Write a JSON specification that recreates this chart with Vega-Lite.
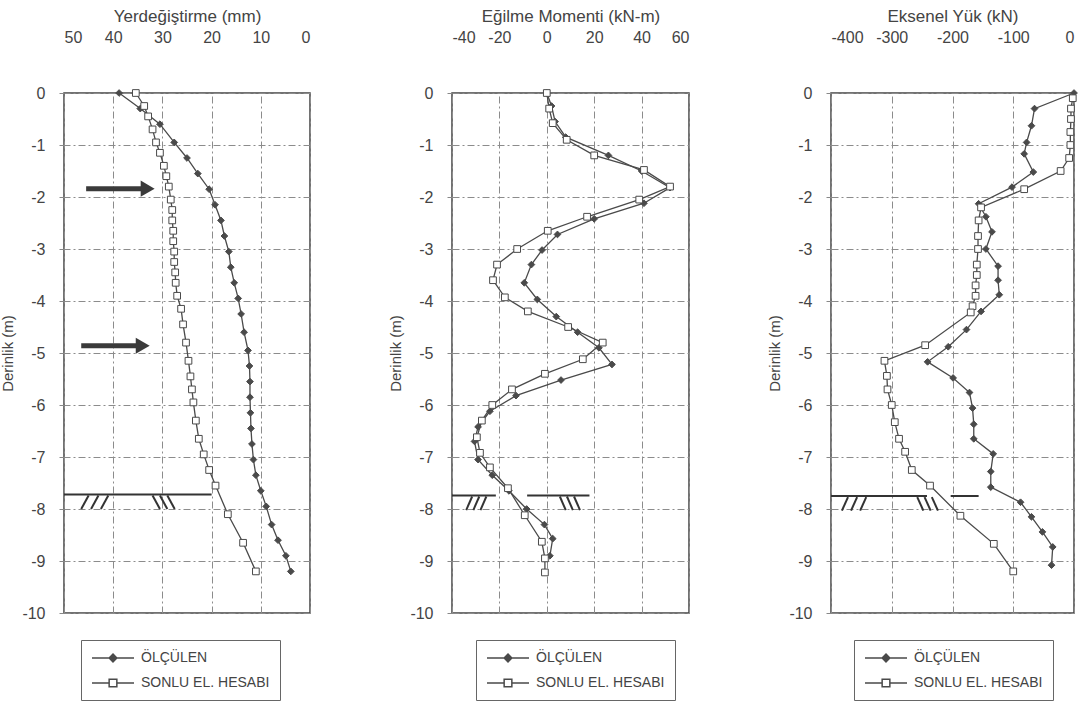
{
  "$schema": "https://vega.github.io/schema/vega-lite/v6.json",
  "padding": {"left": 0, "top": 6, "right": 4, "bottom": 0},
  "background": "white",
  "bounds": "flush",
  "spacing": 142,
  "datasets": {
    "obs": [
      {"p": "Y", "s": "ÖLÇÜLEN", "d": 0, "v": 38.8},
      {"p": "Y", "s": "ÖLÇÜLEN", "d": -0.3, "v": 34.5},
      {"p": "Y", "s": "ÖLÇÜLEN", "d": -0.6, "v": 30.5},
      {"p": "Y", "s": "ÖLÇÜLEN", "d": -0.95, "v": 27.6},
      {"p": "Y", "s": "ÖLÇÜLEN", "d": -1.25, "v": 25.0},
      {"p": "Y", "s": "ÖLÇÜLEN", "d": -1.55, "v": 22.8},
      {"p": "Y", "s": "ÖLÇÜLEN", "d": -1.85, "v": 20.5},
      {"p": "Y", "s": "ÖLÇÜLEN", "d": -2.15, "v": 19.3},
      {"p": "Y", "s": "ÖLÇÜLEN", "d": -2.45, "v": 18.1},
      {"p": "Y", "s": "ÖLÇÜLEN", "d": -2.75, "v": 17.4},
      {"p": "Y", "s": "ÖLÇÜLEN", "d": -3.05, "v": 16.5},
      {"p": "Y", "s": "ÖLÇÜLEN", "d": -3.35, "v": 16.1},
      {"p": "Y", "s": "ÖLÇÜLEN", "d": -3.65, "v": 15.4},
      {"p": "Y", "s": "ÖLÇÜLEN", "d": -3.95, "v": 14.6},
      {"p": "Y", "s": "ÖLÇÜLEN", "d": -4.25, "v": 14.0},
      {"p": "Y", "s": "ÖLÇÜLEN", "d": -4.6, "v": 13.4},
      {"p": "Y", "s": "ÖLÇÜLEN", "d": -4.95, "v": 12.6},
      {"p": "Y", "s": "ÖLÇÜLEN", "d": -5.25, "v": 12.3},
      {"p": "Y", "s": "ÖLÇÜLEN", "d": -5.55, "v": 12.2},
      {"p": "Y", "s": "ÖLÇÜLEN", "d": -5.85, "v": 12.2},
      {"p": "Y", "s": "ÖLÇÜLEN", "d": -6.15, "v": 12.1},
      {"p": "Y", "s": "ÖLÇÜLEN", "d": -6.45, "v": 12.0},
      {"p": "Y", "s": "ÖLÇÜLEN", "d": -6.75, "v": 11.8},
      {"p": "Y", "s": "ÖLÇÜLEN", "d": -7.05, "v": 11.5},
      {"p": "Y", "s": "ÖLÇÜLEN", "d": -7.35, "v": 11.0},
      {"p": "Y", "s": "ÖLÇÜLEN", "d": -7.65, "v": 10.0},
      {"p": "Y", "s": "ÖLÇÜLEN", "d": -7.95, "v": 8.9},
      {"p": "Y", "s": "ÖLÇÜLEN", "d": -8.3, "v": 7.8},
      {"p": "Y", "s": "ÖLÇÜLEN", "d": -8.6, "v": 6.5},
      {"p": "Y", "s": "ÖLÇÜLEN", "d": -8.9, "v": 4.9},
      {"p": "Y", "s": "ÖLÇÜLEN", "d": -9.2, "v": 3.9},
      {"p": "Y", "s": "SONLU EL. HESABI", "d": 0, "v": 35.4},
      {"p": "Y", "s": "SONLU EL. HESABI", "d": -0.25, "v": 33.7},
      {"p": "Y", "s": "SONLU EL. HESABI", "d": -0.45, "v": 32.9},
      {"p": "Y", "s": "SONLU EL. HESABI", "d": -0.7, "v": 32.0},
      {"p": "Y", "s": "SONLU EL. HESABI", "d": -0.95, "v": 31.3},
      {"p": "Y", "s": "SONLU EL. HESABI", "d": -1.15, "v": 30.5},
      {"p": "Y", "s": "SONLU EL. HESABI", "d": -1.4, "v": 29.7},
      {"p": "Y", "s": "SONLU EL. HESABI", "d": -1.6, "v": 29.2},
      {"p": "Y", "s": "SONLU EL. HESABI", "d": -1.8, "v": 28.7},
      {"p": "Y", "s": "SONLU EL. HESABI", "d": -2.05, "v": 28.3},
      {"p": "Y", "s": "SONLU EL. HESABI", "d": -2.25, "v": 28.0},
      {"p": "Y", "s": "SONLU EL. HESABI", "d": -2.45, "v": 28.0},
      {"p": "Y", "s": "SONLU EL. HESABI", "d": -2.65, "v": 27.8},
      {"p": "Y", "s": "SONLU EL. HESABI", "d": -2.85, "v": 27.8},
      {"p": "Y", "s": "SONLU EL. HESABI", "d": -3.05, "v": 27.6},
      {"p": "Y", "s": "SONLU EL. HESABI", "d": -3.25, "v": 27.6},
      {"p": "Y", "s": "SONLU EL. HESABI", "d": -3.45, "v": 27.4},
      {"p": "Y", "s": "SONLU EL. HESABI", "d": -3.65, "v": 27.3},
      {"p": "Y", "s": "SONLU EL. HESABI", "d": -3.9, "v": 27.0},
      {"p": "Y", "s": "SONLU EL. HESABI", "d": -4.15, "v": 26.2},
      {"p": "Y", "s": "SONLU EL. HESABI", "d": -4.45, "v": 25.8},
      {"p": "Y", "s": "SONLU EL. HESABI", "d": -4.8, "v": 25.2},
      {"p": "Y", "s": "SONLU EL. HESABI", "d": -5.15, "v": 24.7},
      {"p": "Y", "s": "SONLU EL. HESABI", "d": -5.45, "v": 24.3},
      {"p": "Y", "s": "SONLU EL. HESABI", "d": -5.7, "v": 24.0},
      {"p": "Y", "s": "SONLU EL. HESABI", "d": -5.95, "v": 23.7},
      {"p": "Y", "s": "SONLU EL. HESABI", "d": -6.3, "v": 23.2},
      {"p": "Y", "s": "SONLU EL. HESABI", "d": -6.65, "v": 22.6},
      {"p": "Y", "s": "SONLU EL. HESABI", "d": -6.95, "v": 21.6},
      {"p": "Y", "s": "SONLU EL. HESABI", "d": -7.25, "v": 20.5},
      {"p": "Y", "s": "SONLU EL. HESABI", "d": -7.55, "v": 19.2},
      {"p": "Y", "s": "SONLU EL. HESABI", "d": -8.1, "v": 16.7},
      {"p": "Y", "s": "SONLU EL. HESABI", "d": -8.65, "v": 13.6},
      {"p": "Y", "s": "SONLU EL. HESABI", "d": -9.2, "v": 11.0},

      {"p": "M", "s": "ÖLÇÜLEN", "d": 0, "v": 0},
      {"p": "M", "s": "ÖLÇÜLEN", "d": -0.25, "v": 2},
      {"p": "M", "s": "ÖLÇÜLEN", "d": -0.55, "v": 3.5},
      {"p": "M", "s": "ÖLÇÜLEN", "d": -0.85, "v": 8},
      {"p": "M", "s": "ÖLÇÜLEN", "d": -1.2, "v": 26},
      {"p": "M", "s": "ÖLÇÜLEN", "d": -1.5, "v": 40},
      {"p": "M", "s": "ÖLÇÜLEN", "d": -1.82, "v": 52},
      {"p": "M", "s": "ÖLÇÜLEN", "d": -2.12, "v": 41},
      {"p": "M", "s": "ÖLÇÜLEN", "d": -2.42, "v": 20},
      {"p": "M", "s": "ÖLÇÜLEN", "d": -2.72, "v": 4.5},
      {"p": "M", "s": "ÖLÇÜLEN", "d": -3.02, "v": -2},
      {"p": "M", "s": "ÖLÇÜLEN", "d": -3.3, "v": -6.5},
      {"p": "M", "s": "ÖLÇÜLEN", "d": -3.65, "v": -9.5},
      {"p": "M", "s": "ÖLÇÜLEN", "d": -3.97, "v": -4},
      {"p": "M", "s": "ÖLÇÜLEN", "d": -4.3, "v": 4},
      {"p": "M", "s": "ÖLÇÜLEN", "d": -4.6, "v": 13},
      {"p": "M", "s": "ÖLÇÜLEN", "d": -4.9, "v": 22},
      {"p": "M", "s": "ÖLÇÜLEN", "d": -5.22, "v": 27.5},
      {"p": "M", "s": "ÖLÇÜLEN", "d": -5.52, "v": 6},
      {"p": "M", "s": "ÖLÇÜLEN", "d": -5.82, "v": -13},
      {"p": "M", "s": "ÖLÇÜLEN", "d": -6.12, "v": -24},
      {"p": "M", "s": "ÖLÇÜLEN", "d": -6.42, "v": -29},
      {"p": "M", "s": "ÖLÇÜLEN", "d": -6.7, "v": -30.5},
      {"p": "M", "s": "ÖLÇÜLEN", "d": -7.05, "v": -29},
      {"p": "M", "s": "ÖLÇÜLEN", "d": -7.35, "v": -23},
      {"p": "M", "s": "ÖLÇÜLEN", "d": -7.65, "v": -16},
      {"p": "M", "s": "ÖLÇÜLEN", "d": -8.0, "v": -8.5},
      {"p": "M", "s": "ÖLÇÜLEN", "d": -8.3, "v": -1},
      {"p": "M", "s": "ÖLÇÜLEN", "d": -8.57, "v": 2.5},
      {"p": "M", "s": "ÖLÇÜLEN", "d": -8.9, "v": 1.3},
      {"p": "M", "s": "SONLU EL. HESABI", "d": 0, "v": 0},
      {"p": "M", "s": "SONLU EL. HESABI", "d": -0.3, "v": 1},
      {"p": "M", "s": "SONLU EL. HESABI", "d": -0.58, "v": 2.5},
      {"p": "M", "s": "SONLU EL. HESABI", "d": -0.9, "v": 8.4},
      {"p": "M", "s": "SONLU EL. HESABI", "d": -1.2, "v": 20},
      {"p": "M", "s": "SONLU EL. HESABI", "d": -1.48, "v": 41},
      {"p": "M", "s": "SONLU EL. HESABI", "d": -1.8, "v": 52},
      {"p": "M", "s": "SONLU EL. HESABI", "d": -2.05, "v": 39},
      {"p": "M", "s": "SONLU EL. HESABI", "d": -2.38, "v": 17},
      {"p": "M", "s": "SONLU EL. HESABI", "d": -2.65, "v": 0.4},
      {"p": "M", "s": "SONLU EL. HESABI", "d": -3.0, "v": -12.5},
      {"p": "M", "s": "SONLU EL. HESABI", "d": -3.3, "v": -21},
      {"p": "M", "s": "SONLU EL. HESABI", "d": -3.6, "v": -22.7},
      {"p": "M", "s": "SONLU EL. HESABI", "d": -3.93, "v": -17.7},
      {"p": "M", "s": "SONLU EL. HESABI", "d": -4.2, "v": -8},
      {"p": "M", "s": "SONLU EL. HESABI", "d": -4.5, "v": 9},
      {"p": "M", "s": "SONLU EL. HESABI", "d": -4.8, "v": 23.6},
      {"p": "M", "s": "SONLU EL. HESABI", "d": -5.12, "v": 15.2},
      {"p": "M", "s": "SONLU EL. HESABI", "d": -5.4, "v": -0.8},
      {"p": "M", "s": "SONLU EL. HESABI", "d": -5.7, "v": -14.7},
      {"p": "M", "s": "SONLU EL. HESABI", "d": -6.0, "v": -23},
      {"p": "M", "s": "SONLU EL. HESABI", "d": -6.3, "v": -27.4},
      {"p": "M", "s": "SONLU EL. HESABI", "d": -6.62, "v": -29.5},
      {"p": "M", "s": "SONLU EL. HESABI", "d": -6.92, "v": -28.2},
      {"p": "M", "s": "SONLU EL. HESABI", "d": -7.2, "v": -24},
      {"p": "M", "s": "SONLU EL. HESABI", "d": -7.6, "v": -16.4},
      {"p": "M", "s": "SONLU EL. HESABI", "d": -8.12, "v": -9.3},
      {"p": "M", "s": "SONLU EL. HESABI", "d": -8.63, "v": -2.1},
      {"p": "M", "s": "SONLU EL. HESABI", "d": -8.95, "v": -0.8},
      {"p": "M", "s": "SONLU EL. HESABI", "d": -9.22, "v": -0.8},

      {"p": "A", "s": "ÖLÇÜLEN", "d": 0, "v": 0},
      {"p": "A", "s": "ÖLÇÜLEN", "d": -0.3, "v": -65},
      {"p": "A", "s": "ÖLÇÜLEN", "d": -0.63, "v": -70},
      {"p": "A", "s": "ÖLÇÜLEN", "d": -0.95, "v": -78},
      {"p": "A", "s": "ÖLÇÜLEN", "d": -1.17, "v": -82},
      {"p": "A", "s": "ÖLÇÜLEN", "d": -1.52, "v": -67},
      {"p": "A", "s": "ÖLÇÜLEN", "d": -1.81, "v": -102},
      {"p": "A", "s": "ÖLÇÜLEN", "d": -2.13, "v": -157},
      {"p": "A", "s": "ÖLÇÜLEN", "d": -2.38, "v": -145},
      {"p": "A", "s": "ÖLÇÜLEN", "d": -2.67, "v": -135},
      {"p": "A", "s": "ÖLÇÜLEN", "d": -3.0, "v": -145},
      {"p": "A", "s": "ÖLÇÜLEN", "d": -3.33, "v": -125},
      {"p": "A", "s": "ÖLÇÜLEN", "d": -3.6, "v": -125},
      {"p": "A", "s": "ÖLÇÜLEN", "d": -3.88, "v": -123},
      {"p": "A", "s": "ÖLÇÜLEN", "d": -4.2, "v": -153},
      {"p": "A", "s": "ÖLÇÜLEN", "d": -4.55, "v": -177},
      {"p": "A", "s": "ÖLÇÜLEN", "d": -4.88, "v": -207},
      {"p": "A", "s": "ÖLÇÜLEN", "d": -5.17, "v": -241},
      {"p": "A", "s": "ÖLÇÜLEN", "d": -5.48, "v": -199},
      {"p": "A", "s": "ÖLÇÜLEN", "d": -5.76, "v": -172},
      {"p": "A", "s": "ÖLÇÜLEN", "d": -6.06, "v": -167},
      {"p": "A", "s": "ÖLÇÜLEN", "d": -6.37, "v": -165},
      {"p": "A", "s": "ÖLÇÜLEN", "d": -6.65, "v": -165},
      {"p": "A", "s": "ÖLÇÜLEN", "d": -6.94, "v": -133},
      {"p": "A", "s": "ÖLÇÜLEN", "d": -7.28, "v": -137},
      {"p": "A", "s": "ÖLÇÜLEN", "d": -7.58, "v": -137},
      {"p": "A", "s": "ÖLÇÜLEN", "d": -7.87, "v": -88},
      {"p": "A", "s": "ÖLÇÜLEN", "d": -8.15, "v": -70},
      {"p": "A", "s": "ÖLÇÜLEN", "d": -8.44, "v": -52},
      {"p": "A", "s": "ÖLÇÜLEN", "d": -8.73, "v": -35},
      {"p": "A", "s": "ÖLÇÜLEN", "d": -9.08, "v": -37},
      {"p": "A", "s": "SONLU EL. HESABI", "d": -0.1, "v": -2},
      {"p": "A", "s": "SONLU EL. HESABI", "d": -0.3, "v": -5},
      {"p": "A", "s": "SONLU EL. HESABI", "d": -0.5, "v": -5},
      {"p": "A", "s": "SONLU EL. HESABI", "d": -0.75, "v": -6},
      {"p": "A", "s": "SONLU EL. HESABI", "d": -1.0, "v": -6},
      {"p": "A", "s": "SONLU EL. HESABI", "d": -1.25, "v": -8},
      {"p": "A", "s": "SONLU EL. HESABI", "d": -1.5, "v": -22},
      {"p": "A", "s": "SONLU EL. HESABI", "d": -1.85, "v": -82},
      {"p": "A", "s": "SONLU EL. HESABI", "d": -2.2, "v": -153},
      {"p": "A", "s": "SONLU EL. HESABI", "d": -2.45, "v": -157},
      {"p": "A", "s": "SONLU EL. HESABI", "d": -2.75, "v": -158},
      {"p": "A", "s": "SONLU EL. HESABI", "d": -3.0, "v": -158},
      {"p": "A", "s": "SONLU EL. HESABI", "d": -3.3, "v": -160},
      {"p": "A", "s": "SONLU EL. HESABI", "d": -3.5, "v": -160},
      {"p": "A", "s": "SONLU EL. HESABI", "d": -3.7, "v": -162},
      {"p": "A", "s": "SONLU EL. HESABI", "d": -3.9, "v": -162},
      {"p": "A", "s": "SONLU EL. HESABI", "d": -4.1, "v": -167},
      {"p": "A", "s": "SONLU EL. HESABI", "d": -4.22, "v": -170},
      {"p": "A", "s": "SONLU EL. HESABI", "d": -4.85, "v": -245},
      {"p": "A", "s": "SONLU EL. HESABI", "d": -5.15, "v": -312},
      {"p": "A", "s": "SONLU EL. HESABI", "d": -5.44, "v": -308},
      {"p": "A", "s": "SONLU EL. HESABI", "d": -5.7, "v": -307},
      {"p": "A", "s": "SONLU EL. HESABI", "d": -6.0, "v": -300},
      {"p": "A", "s": "SONLU EL. HESABI", "d": -6.33, "v": -295},
      {"p": "A", "s": "SONLU EL. HESABI", "d": -6.65, "v": -288},
      {"p": "A", "s": "SONLU EL. HESABI", "d": -6.9, "v": -278},
      {"p": "A", "s": "SONLU EL. HESABI", "d": -7.25, "v": -267},
      {"p": "A", "s": "SONLU EL. HESABI", "d": -7.55, "v": -237},
      {"p": "A", "s": "SONLU EL. HESABI", "d": -8.13, "v": -187},
      {"p": "A", "s": "SONLU EL. HESABI", "d": -8.67, "v": -132},
      {"p": "A", "s": "SONLU EL. HESABI", "d": -9.2, "v": -100}
    ],
    "ann": [
      {"p": "Y", "k": "ground", "v": 50, "v2": 20, "d": -7.72, "d2": -7.72},
      {"p": "Y", "k": "hatch", "v": 45, "v2": 46.5, "d": -7.74, "d2": -8.0},
      {"p": "Y", "k": "hatch", "v": 43, "v2": 44.5, "d": -7.74, "d2": -8.0},
      {"p": "Y", "k": "hatch", "v": 41, "v2": 42.5, "d": -7.74, "d2": -8.0},
      {"p": "Y", "k": "hatch", "v": 32, "v2": 30.5, "d": -7.74, "d2": -8.0},
      {"p": "Y", "k": "hatch", "v": 30.5, "v2": 29, "d": -7.74, "d2": -8.0},
      {"p": "Y", "k": "hatch", "v": 29, "v2": 27.5, "d": -7.74, "d2": -8.0},
      {"p": "Y", "k": "arrow", "v": 45.5, "v2": 34, "d": -1.84, "d2": -1.84},
      {"p": "Y", "k": "arrow", "v": 46.5, "v2": 35, "d": -4.86, "d2": -4.86},
      {"p": "Y", "k": "head", "v": 33, "d": -1.84},
      {"p": "Y", "k": "head", "v": 34, "d": -4.86},
      {"p": "M", "k": "ground", "v": -40, "v2": -21.5, "d": -7.74, "d2": -7.74},
      {"p": "M", "k": "ground", "v": -8.3, "v2": 18, "d": -7.74, "d2": -7.74},
      {"p": "M", "k": "hatch", "v": -31.5, "v2": -34, "d": -7.76, "d2": -8.02},
      {"p": "M", "k": "hatch", "v": -28.5, "v2": -31, "d": -7.76, "d2": -8.02},
      {"p": "M", "k": "hatch", "v": -25.5, "v2": -28, "d": -7.76, "d2": -8.02},
      {"p": "M", "k": "hatch", "v": 5.5, "v2": 8, "d": -7.76, "d2": -8.02},
      {"p": "M", "k": "hatch", "v": 8.5, "v2": 11, "d": -7.76, "d2": -8.02},
      {"p": "M", "k": "hatch", "v": 11.5, "v2": 14, "d": -7.76, "d2": -8.02},
      {"p": "A", "k": "ground", "v": -400, "v2": -242, "d": -7.75, "d2": -7.75},
      {"p": "A", "k": "ground", "v": -203, "v2": -157, "d": -7.75, "d2": -7.75},
      {"p": "A", "k": "hatch", "v": -372, "v2": -382, "d": -7.77, "d2": -8.03},
      {"p": "A", "k": "hatch", "v": -357, "v2": -367, "d": -7.77, "d2": -8.03},
      {"p": "A", "k": "hatch", "v": -342, "v2": -352, "d": -7.77, "d2": -8.03},
      {"p": "A", "k": "hatch", "v": -258, "v2": -248, "d": -7.77, "d2": -8.03},
      {"p": "A", "k": "hatch", "v": -246, "v2": -236, "d": -7.77, "d2": -8.03},
      {"p": "A", "k": "hatch", "v": -234, "v2": -224, "d": -7.77, "d2": -8.03}
    ]
  },
  "hconcat": [
    {
      "width": 246,
      "height": 520,
      "layer": [
        {
          "data": {"name": "ann"},
          "transform": [{"filter": "datum.p == 'Y' && (datum.k == 'ground' || datum.k == 'hatch')"}],
          "mark": {"type": "rule", "stroke": "#333", "strokeWidth": 2},
          "encoding": {
            "x": {"field": "v", "type": "quantitative", "scale": {"domain": [0, 50], "reverse": true, "nice": false}, "axis": {"orient": "top", "title": "Yerdeğiştirme (mm)", "values": [50, 40, 30, 20, 10, 0]}},
            "x2": {"field": "v2"},
            "y": {"field": "d", "type": "quantitative", "scale": {"domain": [-10, 0], "nice": false}, "axis": {"title": "Derinlik (m)", "values": [0, -1, -2, -3, -4, -5, -6, -7, -8, -9, -10], "labelExpr": "'' + datum.value"}},
            "y2": {"field": "d2"}
          }
        },
        {
          "data": {"name": "ann"},
          "transform": [{"filter": "datum.p == 'Y' && datum.k == 'arrow'"}],
          "mark": {"type": "rule", "stroke": "#3a3a3a", "strokeWidth": 5},
          "encoding": {
            "x": {"field": "v", "type": "quantitative"},
            "x2": {"field": "v2"},
            "y": {"field": "d", "type": "quantitative"},
            "y2": {"field": "d2"}
          }
        },
        {
          "data": {"name": "ann"},
          "transform": [{"filter": "datum.p == 'Y' && datum.k == 'head'"}],
          "mark": {"type": "point", "shape": "triangle-right", "filled": true, "fill": "#3a3a3a", "opacity": 1, "size": 260},
          "encoding": {
            "x": {"field": "v", "type": "quantitative"},
            "y": {"field": "d", "type": "quantitative"}
          }
        },
        {
          "data": {"name": "obs"},
          "transform": [{"filter": "datum.p == 'Y'"}],
          "mark": {"type": "line", "stroke": "#4a4a4a", "strokeWidth": 1.3},
          "encoding": {
            "x": {"field": "v", "type": "quantitative"},
            "y": {"field": "d", "type": "quantitative"},
            "detail": {"field": "s"},
            "order": {"field": "d", "sort": "descending"}
          }
        },
        {
          "data": {"name": "obs"},
          "transform": [{"filter": "datum.p == 'Y' && datum.s == 'ÖLÇÜLEN'"}],
          "mark": {"type": "point", "shape": "diamond", "filled": true, "fill": "#4a4a4a", "stroke": "#4a4a4a", "strokeWidth": 1, "opacity": 1, "size": 45},
          "encoding": {
            "x": {"field": "v", "type": "quantitative"},
            "y": {"field": "d", "type": "quantitative"}
          }
        },
        {
          "data": {"name": "obs"},
          "transform": [{"filter": "datum.p == 'Y' && datum.s != 'ÖLÇÜLEN'"}],
          "mark": {"type": "point", "shape": "square", "filled": true, "fill": "#ffffff", "stroke": "#4a4a4a", "strokeWidth": 1, "opacity": 1, "size": 45},
          "encoding": {
            "x": {"field": "v", "type": "quantitative"},
            "y": {"field": "d", "type": "quantitative"}
          }
        },
        {
          "data": {"name": "obs"},
          "transform": [{"filter": "datum.p == 'none'"}],
          "mark": {"type": "point", "filled": true, "stroke": "#4a4a4a", "strokeWidth": 1.2, "opacity": 1},
          "encoding": {
            "x": {"field": "v", "type": "quantitative"},
            "y": {"field": "d", "type": "quantitative"},
            "size": {"value": 196},
            "shape": {"field": "s", "type": "nominal", "scale": {"domain": ["ÖLÇÜLEN", "SONLU EL. HESABI"], "range": ["M-1,0H5M2,-0.55L2.55,0L2,0.55L1.45,0Z", "M-1,0H1.45M2.55,0H5M1.45,-0.55H2.55V0.55H1.45Z"]}, "legend": {"title": null, "orient": "none", "legendX": 17, "legendY": 547, "direction": "vertical", "padding": 10, "rowPadding": 10, "strokeColor": "#666", "labelFont": "Liberation Sans", "labelFontSize": 14, "labelColor": "#444", "labelOffset": 34, "symbolSize": 196}},
            "fill": {"field": "s", "type": "nominal", "scale": {"domain": ["ÖLÇÜLEN", "SONLU EL. HESABI"], "range": ["#4a4a4a", "#ffffff"]}, "legend": {"title": null, "orient": "none", "legendX": 17, "legendY": 547, "direction": "vertical", "padding": 10, "rowPadding": 10, "strokeColor": "#666", "labelFont": "Liberation Sans", "labelFontSize": 14, "labelColor": "#444", "labelOffset": 34, "symbolSize": 196}}
          }
        }
      ]
    },
    {
      "width": 237,
      "height": 520,
      "layer": [
        {
          "data": {"name": "ann"},
          "transform": [{"filter": "datum.p == 'M' && (datum.k == 'ground' || datum.k == 'hatch')"}],
          "mark": {"type": "rule", "stroke": "#333", "strokeWidth": 2},
          "encoding": {
            "x": {"field": "v", "type": "quantitative", "scale": {"domain": [-40, 60], "nice": false}, "axis": {"orient": "top", "title": "Eğilme Momenti (kN-m)", "values": [-40, -20, 0, 20, 40, 60], "labelExpr": "'' + datum.value"}},
            "x2": {"field": "v2"},
            "y": {"field": "d", "type": "quantitative", "scale": {"domain": [-10, 0], "nice": false}, "axis": {"title": "Derinlik (m)", "values": [0, -1, -2, -3, -4, -5, -6, -7, -8, -9, -10], "labelExpr": "'' + datum.value"}},
            "y2": {"field": "d2"}
          }
        },
        {
          "data": {"name": "obs"},
          "transform": [{"filter": "datum.p == 'M'"}],
          "mark": {"type": "line", "stroke": "#4a4a4a", "strokeWidth": 1.3},
          "encoding": {
            "x": {"field": "v", "type": "quantitative"},
            "y": {"field": "d", "type": "quantitative"},
            "detail": {"field": "s"},
            "order": {"field": "d", "sort": "descending"}
          }
        },
        {
          "data": {"name": "obs"},
          "transform": [{"filter": "datum.p == 'M' && datum.s == 'ÖLÇÜLEN'"}],
          "mark": {"type": "point", "shape": "diamond", "filled": true, "fill": "#4a4a4a", "stroke": "#4a4a4a", "strokeWidth": 1, "opacity": 1, "size": 45},
          "encoding": {
            "x": {"field": "v", "type": "quantitative"},
            "y": {"field": "d", "type": "quantitative"}
          }
        },
        {
          "data": {"name": "obs"},
          "transform": [{"filter": "datum.p == 'M' && datum.s != 'ÖLÇÜLEN'"}],
          "mark": {"type": "point", "shape": "square", "filled": true, "fill": "#ffffff", "stroke": "#4a4a4a", "strokeWidth": 1, "opacity": 1, "size": 45},
          "encoding": {
            "x": {"field": "v", "type": "quantitative"},
            "y": {"field": "d", "type": "quantitative"}
          }
        },
        {
          "data": {"name": "obs"},
          "transform": [{"filter": "datum.p == 'none'"}],
          "mark": {"type": "point", "filled": true, "stroke": "#4a4a4a", "strokeWidth": 1.2, "opacity": 1},
          "encoding": {
            "x": {"field": "v", "type": "quantitative"},
            "y": {"field": "d", "type": "quantitative"},
            "size": {"value": 196},
            "shape": {"field": "s", "type": "nominal", "scale": {"domain": ["ÖLÇÜLEN", "SONLU EL. HESABI"], "range": ["M-1,0H5M2,-0.55L2.55,0L2,0.55L1.45,0Z", "M-1,0H1.45M2.55,0H5M1.45,-0.55H2.55V0.55H1.45Z"]}, "legend": {"title": null, "orient": "none", "legendX": 24, "legendY": 547, "direction": "vertical", "padding": 10, "rowPadding": 10, "strokeColor": "#666", "labelFont": "Liberation Sans", "labelFontSize": 14, "labelColor": "#444", "labelOffset": 34, "symbolSize": 196}},
            "fill": {"field": "s", "type": "nominal", "scale": {"domain": ["ÖLÇÜLEN", "SONLU EL. HESABI"], "range": ["#4a4a4a", "#ffffff"]}, "legend": {"title": null, "orient": "none", "legendX": 24, "legendY": 547, "direction": "vertical", "padding": 10, "rowPadding": 10, "strokeColor": "#666", "labelFont": "Liberation Sans", "labelFontSize": 14, "labelColor": "#444", "labelOffset": 34, "symbolSize": 196}}
          }
        }
      ]
    },
    {
      "width": 243,
      "height": 520,
      "layer": [
        {
          "data": {"name": "ann"},
          "transform": [{"filter": "datum.p == 'A' && (datum.k == 'ground' || datum.k == 'hatch')"}],
          "mark": {"type": "rule", "stroke": "#333", "strokeWidth": 2},
          "encoding": {
            "x": {"field": "v", "type": "quantitative", "scale": {"domain": [-400, 0], "nice": false}, "axis": {"orient": "top", "title": "Eksenel Yük (kN)", "values": [-400, -300, -200, -100, 0], "labelExpr": "'' + datum.value"}},
            "x2": {"field": "v2"},
            "y": {"field": "d", "type": "quantitative", "scale": {"domain": [-10, 0], "nice": false}, "axis": {"title": "Derinlik (m)", "values": [0, -1, -2, -3, -4, -5, -6, -7, -8, -9, -10], "labelExpr": "'' + datum.value"}},
            "y2": {"field": "d2"}
          }
        },
        {
          "data": {"name": "obs"},
          "transform": [{"filter": "datum.p == 'A'"}],
          "mark": {"type": "line", "stroke": "#4a4a4a", "strokeWidth": 1.3},
          "encoding": {
            "x": {"field": "v", "type": "quantitative"},
            "y": {"field": "d", "type": "quantitative"},
            "detail": {"field": "s"},
            "order": {"field": "d", "sort": "descending"}
          }
        },
        {
          "data": {"name": "obs"},
          "transform": [{"filter": "datum.p == 'A' && datum.s == 'ÖLÇÜLEN'"}],
          "mark": {"type": "point", "shape": "diamond", "filled": true, "fill": "#4a4a4a", "stroke": "#4a4a4a", "strokeWidth": 1, "opacity": 1, "size": 45},
          "encoding": {
            "x": {"field": "v", "type": "quantitative"},
            "y": {"field": "d", "type": "quantitative"}
          }
        },
        {
          "data": {"name": "obs"},
          "transform": [{"filter": "datum.p == 'A' && datum.s != 'ÖLÇÜLEN'"}],
          "mark": {"type": "point", "shape": "square", "filled": true, "fill": "#ffffff", "stroke": "#4a4a4a", "strokeWidth": 1, "opacity": 1, "size": 45},
          "encoding": {
            "x": {"field": "v", "type": "quantitative"},
            "y": {"field": "d", "type": "quantitative"}
          }
        },
        {
          "data": {"name": "obs"},
          "transform": [{"filter": "datum.p == 'none'"}],
          "mark": {"type": "point", "filled": true, "stroke": "#4a4a4a", "strokeWidth": 1.2, "opacity": 1},
          "encoding": {
            "x": {"field": "v", "type": "quantitative"},
            "y": {"field": "d", "type": "quantitative"},
            "size": {"value": 196},
            "shape": {"field": "s", "type": "nominal", "scale": {"domain": ["ÖLÇÜLEN", "SONLU EL. HESABI"], "range": ["M-1,0H5M2,-0.55L2.55,0L2,0.55L1.45,0Z", "M-1,0H1.45M2.55,0H5M1.45,-0.55H2.55V0.55H1.45Z"]}, "legend": {"title": null, "orient": "none", "legendX": 23, "legendY": 547, "direction": "vertical", "padding": 10, "rowPadding": 10, "strokeColor": "#666", "labelFont": "Liberation Sans", "labelFontSize": 14, "labelColor": "#444", "labelOffset": 34, "symbolSize": 196}},
            "fill": {"field": "s", "type": "nominal", "scale": {"domain": ["ÖLÇÜLEN", "SONLU EL. HESABI"], "range": ["#4a4a4a", "#ffffff"]}, "legend": {"title": null, "orient": "none", "legendX": 23, "legendY": 547, "direction": "vertical", "padding": 10, "rowPadding": 10, "strokeColor": "#666", "labelFont": "Liberation Sans", "labelFontSize": 14, "labelColor": "#444", "labelOffset": 34, "symbolSize": 196}}
          }
        }
      ]
    }
  ],
  "resolve": {
    "scale": {"shape": "independent", "fill": "independent", "x": "independent", "y": "independent"},
    "legend": {"shape": "independent", "fill": "independent"}
  },
  "config": {
    "font": "Liberation Sans",
    "view": {"stroke": "#444", "strokeWidth": 1.5},
    "axis": {
      "grid": true,
      "gridColor": "#8c8c8c",
      "gridDash": [7, 3, 2, 3],
      "gridWidth": 1,
      "domain": false,
      "labelFontSize": 16,
      "labelColor": "#444",
      "titleFontSize": 17,
      "titleColor": "#444",
      "titleFontWeight": "normal"
    },
    "axisX": {"ticks": false, "labelPadding": 48, "titlePadding": 4},
    "axisY": {"ticks": true, "tickColor": "#888", "tickSize": 5, "labelPadding": 14, "titlePadding": 6, "titleFontSize": 15}
  }
}
